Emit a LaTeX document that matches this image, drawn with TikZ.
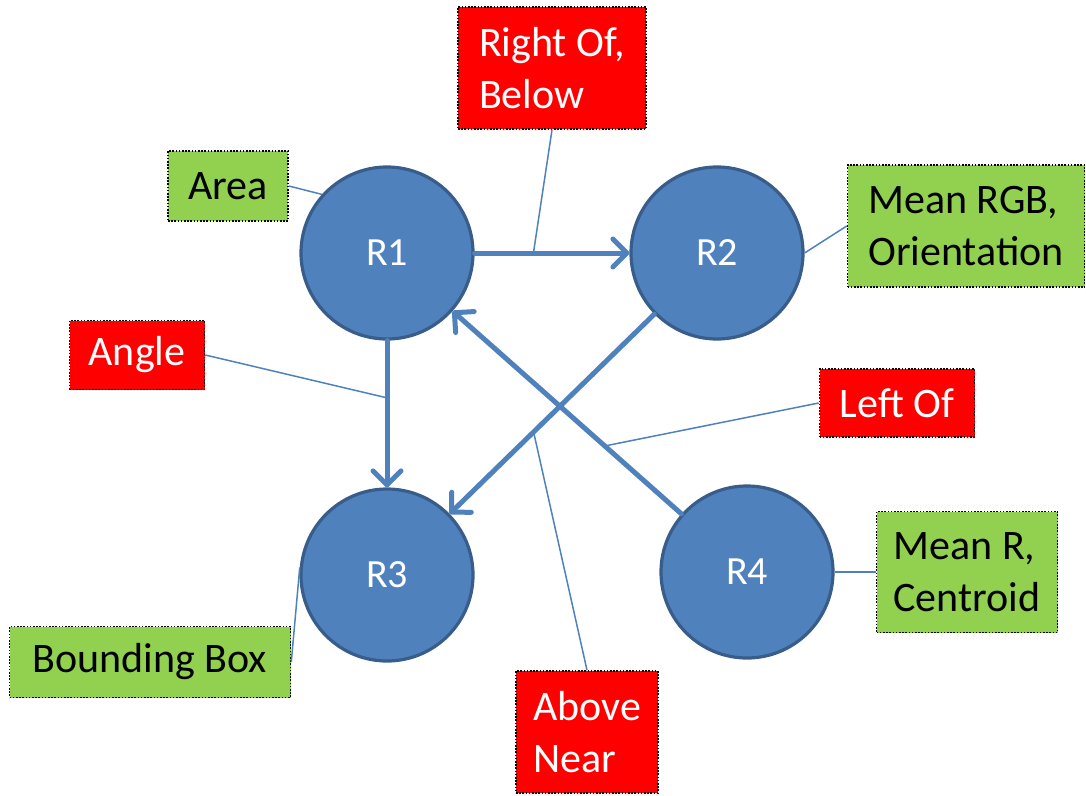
\documentclass[tikz,border=0pt]{standalone}
\usepackage{fontspec}
\setmainfont{Carlito}
\usetikzlibrary{arrows.meta}
\definecolor{nodeblue}{HTML}{4F81BD}
\definecolor{nodeedge}{HTML}{385D8A}
\definecolor{tagred}{HTML}{FF0000}
\definecolor{taggreen}{HTML}{92D050}
\begin{document}
\begin{tikzpicture}[x=1pt,y=-1pt,
  region/.style={circle, fill=nodeblue, draw=nodeedge, line width=3.2pt,
    minimum size=172pt, inner sep=0pt, text=white,
    font=\fontsize{40}{48}\selectfont},
  tag/.style={rectangle, draw=black, line width=1.6pt,
    dash pattern=on 1.6pt off 1.6pt, inner sep=0pt, align=left,
    font=\fontsize{42}{52}\selectfont},
  relation/.style={tag, fill=tagred, text=white},
  feature/.style={tag, fill=taggreen, text=black},
  link/.style={draw=nodeblue, line width=5pt, line cap=round,
    -{Straight Barb[round, length=14pt, width=28pt]}},
  callout/.style={draw=nodeblue, line width=1.5pt}]

\useasboundingbox (0,0) rectangle (1086,795);

% regions
\node[region] (R1) at (387,253) {R1};
\node[region] (R2) at (717,253) {R2};
\node[region] (R3) at (387,575) {R3};
\node[region] (R4) at (747,572) {R4};

% relations between regions
\draw[link] (R1) -- coordinate[pos=0.38] (rbpt) (R2);
\draw[link] (R1) -- coordinate[pos=0.39] (angpt) (R3);
\draw[link] (R2) -- coordinate[pos=0.59] (abpt) (R3);
\draw[link] (R4) -- coordinate[pos=0.335] (lfpt) (R1);

% feature and relation labels
\node[feature, minimum width=120pt, minimum height=70pt] (area) at (228,186) {Area};
\node[relation, minimum width=188pt, minimum height=122pt] (rightof) at (552,68) {Right Of,\\Below};
\node[feature, minimum width=237pt, minimum height=122pt] (meanrgb) at (966,226) {Mean RGB,\\Orientation};
\node[relation, minimum width=135pt, minimum height=69pt] (angle) at (137,355) {Angle};
\node[relation, minimum width=155pt, minimum height=68pt] (leftof) at (897,403) {Left Of};
\node[feature, minimum width=281pt, minimum height=71pt] (bbox) at (150,662) {Bounding Box};
\node[relation, minimum width=142pt, minimum height=122pt] (above) at (587,732) {Above\\Near};
\node[feature, minimum width=181pt, minimum height=121pt] (meanr) at (967,572) {Mean R,\\Centroid};

% callout lines
\draw[callout] (area.east) -- (R1.138);
\draw[callout] (rightof.south) -- (rbpt);
\draw[callout] (meanrgb.west) -- (R2.east);
\draw[callout] (angle.east) -- (angpt);
\draw[callout] (leftof.west) -- (lfpt);
\draw[callout] (above.north) -- (abpt);
\draw[callout] (bbox.east) -- (R3.175);
\draw[callout] (meanr.west) -- (R4.east);
\end{tikzpicture}
\end{document}
